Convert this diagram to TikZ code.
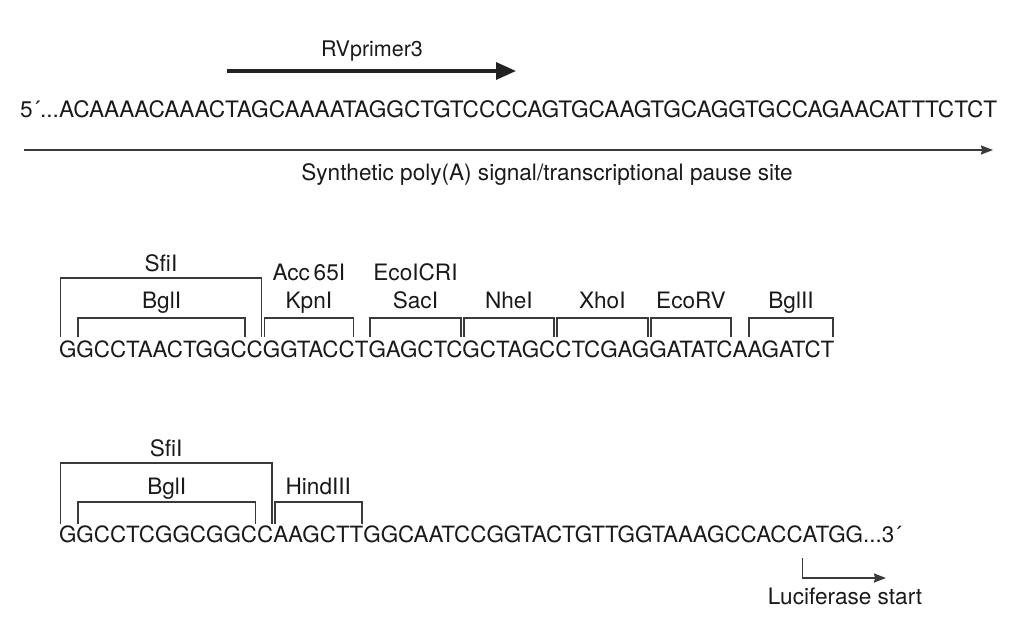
\documentclass[tikz,border=0pt]{standalone}
\usepackage{fontspec}
\setmainfont{TeX Gyre Heros}
\usetikzlibrary{arrows.meta, positioning, calc}
\definecolor{seqink}{HTML}{1A1A1A}
\definecolor{lineink}{HTML}{3A3A3A}
\definecolor{primink}{HTML}{222222}

\begin{document}
\begin{tikzpicture}[x=1pt, y=1pt,
  seq/.style={
    font=\fontsize{22.4}{26}\selectfont, text=seqink,
    inner sep=0pt, outer sep=0pt
  },
  lab/.style={
    font=\fontsize{22.6}{26}\selectfont, text=seqink,
    inner sep=0pt, anchor=base
  },
  site/.style={draw=lineink, line width=1.5pt},
  primer/.style={-{Triangle[length=20pt, width=17pt]}, line width=3.3pt, primink},
  thinarr/.style={-{Stealth[length=12pt, width=9pt, inset=1pt]}, line width=1.3pt, lineink},
  node distance=0pt,
]

\useasboundingbox (0,0) rectangle (1022,-629);

% ---- Top sequence ----
\node[seq, font=\fontsize{22.65}{26}\selectfont, anchor=base west] (topseq) at (20,-117)
  {5´...ACAAAACAAACTAGCAAAATAGGCTGTCCCCAGTGCAAGTGCAGGTGCCAGAACATTTCTCT};

% Primer arrow
\coordinate (prim1) at (227,-71);
\coordinate (prim2) at (516,-71);
\draw[primer] (prim1) -- (prim2);
\node[lab, font=\fontsize{21.5}{26}\selectfont] (primlab) at (372,-56) {RVprimer3};

% Poly(A) arrow
\coordinate (poly1) at (24,-150);
\coordinate (poly2) at (993,-150);
\draw[thinarr] (poly1) -- (poly2);
\node[lab] (polylab) at (547,-180)
  {Synthetic poly(A) signal/transcriptional pause site};

% ---- Middle sequence (split at the sites) ----
\node[seq, anchor=base west] (m1) at (59,-357) {G};
\node[seq, base right=of m1]  (m2)  {GCCTAACTGGC};
\node[seq, base right=of m2]  (m3)  {C};
\node[seq, base right=of m3]  (m4)  {GGTACC};
\node[seq, base right=of m4]  (m5)  {T};
\node[seq, base right=of m5]  (m6)  {GAGCTC};
\node[seq, base right=of m6]  (m7)  {GCTAGC};
\node[seq, base right=of m7]  (m8)  {CTCGAG};
\node[seq, base right=of m8]  (m9)  {GATATC};
\node[seq, base right=of m9]  (m10) {A};
\node[seq, base right=of m10] (m11) {AGATCT};

% SfiI / BglI brackets
\draw[site] ($(m1.base west)+(1.5,20)$) -- ++(0,59) -| ($(m3.base east)+(-1.5,20)$);
\node[lab] (msfi) at ($(m1.base west)!0.5!(m3.base east)+(0,86)$) {SfiI};
\draw[site] ($(m2.base west)+(1.5,20)$) -- ++(0,19) -| ($(m2.base east)+(-1.5,20)$);
\node[lab] (mbgl) at ($(m2.base west)!0.5!(m2.base east)+(0,49)$) {BglI};

% Single-site brackets
\foreach \s/\t in {m4/KpnI, m6/SacI, m7/NheI, m8/XhoI, m9/EcoRV, m11/BglII} {
  \draw[site] ($(\s.base west)+(1.5,20)$) -- ++(0,19) -| ($(\s.base east)+(-1.5,20)$);
  \node[lab] (lab-\s) at ($(\s.base west)!0.5!(\s.base east)+(0,49)$) {\t};
}
\node[lab] (macc) at ($(m4.base west)!0.5!(m4.base east)+(0,77)$) {Acc\,65I};
\node[lab] (meco) at ($(m6.base west)!0.5!(m6.base east)+(0,77)$) {EcoICRI};

% ---- Bottom sequence ----
\node[seq, anchor=base west] (b1) at (59,-542) {G};
\node[seq, base right=of b1] (b2) {GCCTCGGCGGC};
\node[seq, base right=of b2] (b3) {C};
\node[seq, base right=of b3] (b4) {AAGCTT};
\node[seq, base right=of b4] (b5) {GGCAATCCGGTACTGTTGGTAAAGCCACC};
\node[seq, base right=of b5] (b6) {ATGG...3´};

\draw[site] ($(b1.base west)+(1.5,18)$) -- ++(0,61) -| ($(b3.base east)+(-1.5,18)$);
\node[lab] (bsfi) at ($(b1.base west)!0.5!(b3.base east)+(0,86)$) {SfiI};
\draw[site] ($(b2.base west)+(1.5,18)$) -- ++(0,22) -| ($(b2.base east)+(-1.5,18)$);
\node[lab] (bbgl) at ($(b2.base west)!0.5!(b2.base east)+(0,48)$) {BglI};
\draw[site] ($(b4.base west)+(1.5,18)$) -- ++(0,22) -| ($(b4.base east)+(-1.5,18)$);
\node[lab] (bhind) at ($(b4.base west)!0.5!(b4.base east)+(0,48)$) {HindIII};

% Luciferase start
\coordinate (lucend) at (886,-578);
\draw[thinarr] ($(b6.base west)+(0,-16)$) |- (lucend);
\node[lab] (luclab) at (845,-604) {Luciferase start};

\end{tikzpicture}
\end{document}
